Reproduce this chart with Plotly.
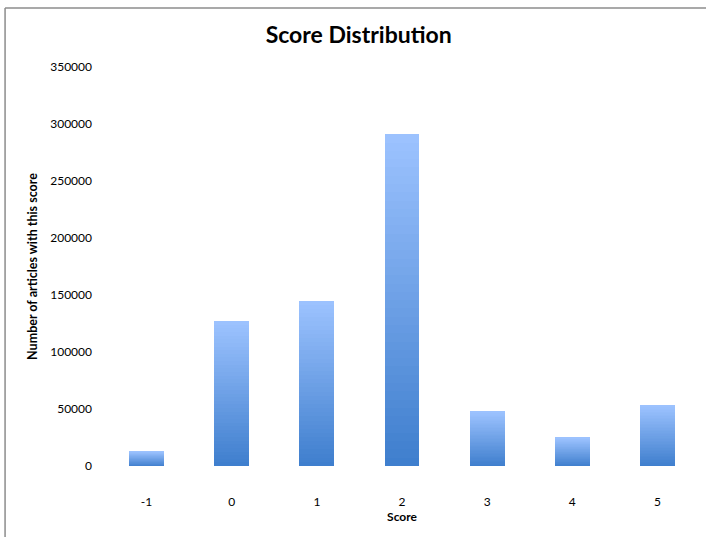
import plotly.graph_objects as go

categories = ["-1", "0", "1", "2", "3", "4", "5"]
counts = [13000, 127000, 145000, 291000, 48000, 25000, 53500]
y_ticks = [0, 50000, 100000, 150000, 200000, 250000, 300000, 350000]

TOP = (157, 195, 255)
BOTTOM = (62, 126, 205)
N = 40

fig = go.Figure()
for k in range(N):
    t = (k + 0.5) / N  # 0 bottom, 1 top
    c = tuple(round(BOTTOM[i] + (TOP[i] - BOTTOM[i]) * t) for i in range(3))
    fig.add_trace(go.Bar(
        x=categories,
        y=[v / N for v in counts],
        marker=dict(color="rgb(%d,%d,%d)" % c, line=dict(width=0)),
        showlegend=False,
        hoverinfo="skip",
    ))

font = "Lato, 'Liberation Sans', sans-serif"
fig.update_layout(
    barmode="stack",
    bargap=0.59,
    width=706, height=537,
    margin=dict(l=104, r=6, t=67, b=71),
    paper_bgcolor="white", plot_bgcolor="white",
    title=dict(text="<b>Score Distribution</b>", x=0.508, xanchor="center",
               y=1 - 35 / 537, yref="container", yanchor="middle",
               font=dict(family=font, size=23, color="black")),
    font=dict(family=font, size=12, color="black"),
    xaxis=dict(type="category", showgrid=False, showline=False, zeroline=False,
               ticks="", ticklabelstandoff=27,
               title=dict(text="<b>Score</b>", font=dict(size=12), standoff=4),
               tickfont=dict(size=12)),
    yaxis=dict(range=[0, 350000], tickvals=y_ticks,
               ticktext=[str(v) for v in y_ticks],
               showgrid=False, showline=False, zeroline=False, ticks="",
               ticklabelstandoff=11,
               title=dict(text="<b>Number of articles with this score</b>",
                          font=dict(size=12.5), standoff=9),
               tickfont=dict(size=12)),
    shapes=[
        dict(type="line", xref="paper", yref="paper", x0=-0.166, x1=-0.166,
             y0=1.148, y1=-0.3, line=dict(color="#8c8c8c", width=1.5)),
        dict(type="line", xref="paper", yref="paper", x0=-0.166, x1=1.1,
             y0=1.148, y1=1.148, line=dict(color="#8c8c8c", width=1.5)),
    ],
)
fig.write_html("out.html", config={"displayModeBar": False},
               post_script="document.body.style.margin='0';")
